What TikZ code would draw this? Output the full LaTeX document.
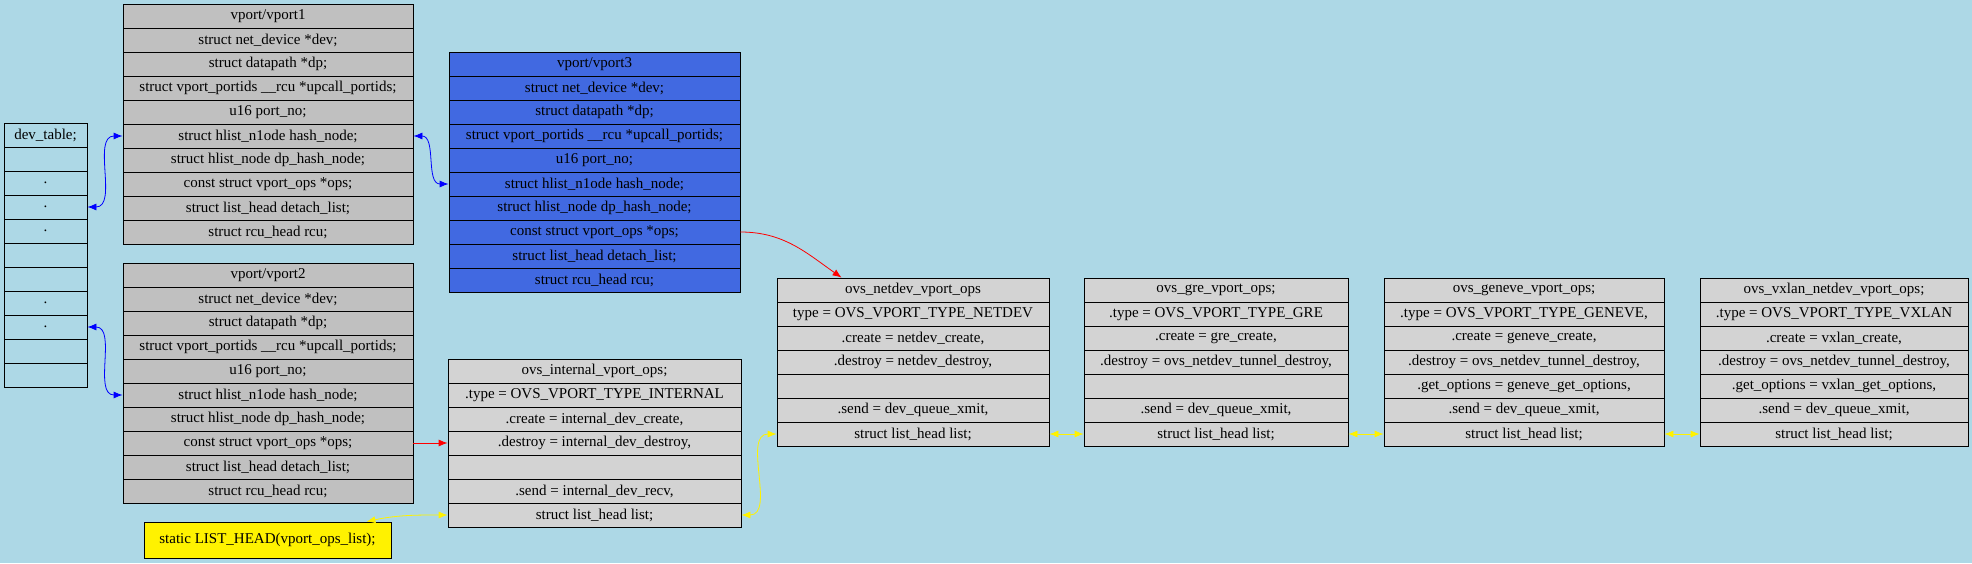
\documentclass[tikz,border=0pt]{standalone}
\usepackage{fontspec}
\setmainfont{Liberation Serif}
\usetikzlibrary{arrows.meta}

\definecolor{fondo}{HTML}{ADD8E6}
\definecolor{gris}{HTML}{C0C0C0}
\definecolor{grisclaro}{HTML}{D3D3D3}
\definecolor{azulreal}{HTML}{4169E1}

\tikzset{
  fila/.style={draw, line width=0.8pt, minimum height=24pt, inner sep=0pt,
    font=\fontsize{15}{17}\selectfont},
  enlace/.style={line width=0.8pt}
}

% registro: nombre, x izquierda, y arriba, ancho, relleno, filas
\newcommand{\registro}[6]{%
  \foreach \campo [count=\i from 0] in {#6}{
    \node[fila, fill=#5, minimum width=#4pt] (#1-\i) at ({#2+#4/2},{563-#3-12-24*\i}) {\campo};
  }
}

\begin{document}
\begin{tikzpicture}[x=1pt, y=1pt, >={Latex[length=9pt,width=7pt]}]
        % Fondo
        \fill[fondo] (0,0) rectangle (1972,563);

        % Tabla dev_table
        \registro{dt}{4}{123}{83}{none}{{dev\_table;},{},{.},{.},{.},{},{},{.},{.},{},{}}

        % Puertos vport1, vport2 y vport3
        \registro{v1}{123}{4}{290}{gris}{{vport/vport1},{struct net\_device *dev;},{struct datapath *dp;},{struct vport\_portids \_\_rcu *upcall\_portids;},{u16 port\_no;},{struct hlist\_n1ode hash\_node;},{struct hlist\_node dp\_hash\_node;},{const struct vport\_ops *ops;},{struct list\_head detach\_list;},{struct rcu\_head rcu;}}
        \registro{v2}{123}{263}{290}{gris}{{vport/vport2},{struct net\_device *dev;},{struct datapath *dp;},{struct vport\_portids \_\_rcu *upcall\_portids;},{u16 port\_no;},{struct hlist\_n1ode hash\_node;},{struct hlist\_node dp\_hash\_node;},{const struct vport\_ops *ops;},{struct list\_head detach\_list;},{struct rcu\_head rcu;}}
        \registro{v3}{449}{52}{291}{azulreal}{{vport/vport3},{struct net\_device *dev;},{struct datapath *dp;},{struct vport\_portids \_\_rcu *upcall\_portids;},{u16 port\_no;},{struct hlist\_n1ode hash\_node;},{struct hlist\_node dp\_hash\_node;},{const struct vport\_ops *ops;},{struct list\_head detach\_list;},{struct rcu\_head rcu;}}

        % Operaciones de cada tipo de puerto
        \registro{int}{448}{359}{293}{grisclaro}{{ovs\_internal\_vport\_ops;},{.type = OVS\_VPORT\_TYPE\_INTERNAL},{.create = internal\_dev\_create,},{.destroy = internal\_dev\_destroy,},{},{.send = internal\_dev\_recv,},{struct list\_head list;}}
        \registro{nd}{777}{278}{272}{grisclaro}{{ovs\_netdev\_vport\_ops},{type = OVS\_VPORT\_TYPE\_NETDEV},{.create = netdev\_create,},{.destroy = netdev\_destroy,},{},{.send = dev\_queue\_xmit,},{struct list\_head list;}}
        \registro{gre}{1084}{278}{264}{grisclaro}{{ovs\_gre\_vport\_ops;},{.type = OVS\_VPORT\_TYPE\_GRE},{.create = gre\_create,},{.destroy = ovs\_netdev\_tunnel\_destroy,},{},{.send = dev\_queue\_xmit,},{struct list\_head list;}}
        \registro{gnv}{1384}{278}{280}{grisclaro}{{ovs\_geneve\_vport\_ops;},{.type = OVS\_VPORT\_TYPE\_GENEVE,},{.create = geneve\_create,},{.destroy = ovs\_netdev\_tunnel\_destroy,},{.get\_options = geneve\_get\_options,},{.send = dev\_queue\_xmit,},{struct list\_head list;}}
        \registro{vx}{1700}{278}{268}{grisclaro}{{ovs\_vxlan\_netdev\_vport\_ops;},{.type = OVS\_VPORT\_TYPE\_VXLAN},{.create = vxlan\_create,},{.destroy = ovs\_netdev\_tunnel\_destroy,},{.get\_options = vxlan\_get\_options,},{.send = dev\_queue\_xmit,},{struct list\_head list;}}

        % Cabeza de la lista
        \node[fila, fill=yellow, minimum width=247pt, minimum height=36pt] (lh) at (267.5,23) {static LIST\_HEAD(vport\_ops\_list);};

        % Enlaces hash (azul)
        \draw[enlace, blue, <->] (dt-3.east) to[out=0,in=180] (v1-5.west);
        \draw[enlace, blue, <->] (dt-8.east) to[out=0,in=180] (v2-5.west);
        \draw[enlace, blue, <->] (v1-5.east) to[out=0,in=180] (v3-5.west);

        % Punteros ops (rojo)
        \draw[enlace, red, ->] (v3-7.east) to[out=0,in=145] ([xshift=65pt]nd-0.north west);
        \draw[enlace, red, ->] (v2-7.east) -- (int-3.west);

        % Lista de ops (amarillo)
        \draw[enlace, yellow, <->] ([xshift=-25pt]lh.north east) to[out=12,in=180] (int-6.west);
        \draw[enlace, yellow, <->] (int-6.east) to[out=0,in=180] (nd-6.west);
        \draw[enlace, yellow, <->] (nd-6.east) -- (gre-6.west);
        \draw[enlace, yellow, <->] (gre-6.east) -- (gnv-6.west);
        \draw[enlace, yellow, <->] (gnv-6.east) -- (vx-6.west);
\end{tikzpicture}
\end{document}
